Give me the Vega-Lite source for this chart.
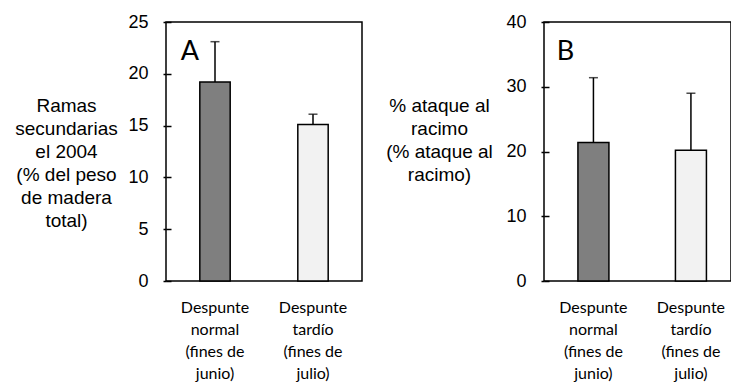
{
  "$schema": "https://vega.github.io/schema/vega-lite/v6.json",
  "background": "white",
  "padding": {"left": 14, "top": 12, "right": 0, "bottom": 0},
  "bounds": "flush",
  "spacing": 182,
  "config": {
    "view": {"stroke": "black", "strokeWidth": 1.5},
    "axis": {"labelColor": "black", "titleColor": "black", "grid": false, "domain": false}
  },
  "hconcat": [
    {
      "width": 196,
      "height": 259,
      "data": {"values": [
        {"cat": "Despunte|normal|(fines de|junio)", "v": 19.2, "hi": 23.1},
        {"cat": "Despunte|tardío|(fines de|julio)", "v": 15.1, "hi": 16.1}
      ]},
      "layer": [
        {
          "mark": {"type": "bar", "stroke": "black", "strokeWidth": 1.5},
          "encoding": {
            "x": {"field": "cat", "type": "nominal", "sort": null,
              "scale": {"paddingInner": 0.69, "paddingOuter": 0.345},
              "axis": {"title": null, "ticks": false, "labelAngle": 0, "labelExpr": "split(datum.label, '|')",
                "labelFont": "Lato", "labelFontSize": 16, "labelLineHeight": 22, "labelPadding": 18}},
            "y": {"field": "v", "type": "quantitative", "scale": {"domain": [0, 25], "nice": false, "padding": 0},
              "axis": {"values": [0, 5, 10, 15, 20, 25], "ticks": true, "tickSize": 3, "tickColor": "black", "tickWidth": 1.5,
                "grid": true, "gridColor": "black", "gridWidth": 1.5, "gridDash": [5, 1000], "gridOpacity": 1,
                "labelFont": "Liberation Sans", "labelFontSize": 18, "labelPadding": 15, "labelFlush": false,
                "title": ["Ramas", "secundarias", "el 2004", "(% del peso", "de madera", "total)"],
                "titleAngle": 0, "titleX": -100, "titleY": 83, "titleAlign": "center", "titleBaseline": "middle",
                "titleFont": "Liberation Sans", "titleFontSize": 19, "titleFontWeight": "normal", "titleLineHeight": 23}},
            "color": {"field": "cat", "type": "nominal", "sort": null, "scale": {"range": ["#7f7f7f", "#f2f2f2"]}, "legend": null}
          }
        },
        {
          "mark": {"type": "rule", "color": "black", "strokeWidth": 1.5},
          "encoding": {
            "x": {"field": "cat", "type": "nominal", "sort": null},
            "y": {"field": "v", "type": "quantitative"},
            "y2": {"field": "hi"}
          }
        },
        {
          "mark": {"type": "tick", "color": "black", "size": 9, "thickness": 1.5},
          "encoding": {
            "x": {"field": "cat", "type": "nominal", "sort": null},
            "y": {"field": "hi", "type": "quantitative"}
          }
        },
        {
          "data": {"values": [{"panel": "A"}]},
          "mark": {"type": "text", "font": "Lato", "fontSize": 27, "color": "black", "align": "center", "baseline": "middle", "dx": -25},
          "encoding": {
            "x": {"datum": "Despunte|normal|(fines de|junio)", "type": "nominal"},
            "y": {"datum": 22.1, "type": "quantitative"},
            "text": {"field": "panel"}
          }
        }
      ]
    },
    {
      "width": 187,
      "height": 259,
      "data": {"values": [
        {"cat": "Despunte|normal|(fines de|junio)", "v": 21.4, "hi": 31.4},
        {"cat": "Despunte|tardío|(fines de|julio)", "v": 20.2, "hi": 29.0}
      ]},
      "layer": [
        {
          "mark": {"type": "bar", "stroke": "black", "strokeWidth": 1.5},
          "encoding": {
            "x": {"field": "cat", "type": "nominal", "sort": null,
              "scale": {"paddingInner": 0.682, "paddingOuter": 0.3, "align": 0.58},
              "axis": {"title": null, "ticks": false, "labelAngle": 0, "labelExpr": "split(datum.label, '|')",
                "labelFont": "Lato", "labelFontSize": 16, "labelLineHeight": 22, "labelPadding": 18}},
            "y": {"field": "v", "type": "quantitative", "scale": {"domain": [0, 40], "nice": false, "padding": 0},
              "axis": {"values": [0, 10, 20, 30, 40], "ticks": true, "tickSize": 3, "tickColor": "black", "tickWidth": 1.5,
                "grid": true, "gridColor": "black", "gridWidth": 1.5, "gridDash": [5, 1000], "gridOpacity": 1,
                "labelFont": "Liberation Sans", "labelFontSize": 18, "labelPadding": 15, "labelFlush": false,
                "title": ["% ataque al", "racimo", "(% ataque al", "racimo)"],
                "titleAngle": 0, "titleX": -105, "titleY": 83, "titleAlign": "center", "titleBaseline": "middle",
                "titleFont": "Liberation Sans", "titleFontSize": 19, "titleFontWeight": "normal", "titleLineHeight": 23}},
            "color": {"field": "cat", "type": "nominal", "sort": null, "scale": {"range": ["#7f7f7f", "#f2f2f2"]}, "legend": null}
          }
        },
        {
          "mark": {"type": "rule", "color": "black", "strokeWidth": 1.5},
          "encoding": {
            "x": {"field": "cat", "type": "nominal", "sort": null},
            "y": {"field": "v", "type": "quantitative"},
            "y2": {"field": "hi"}
          }
        },
        {
          "mark": {"type": "tick", "color": "black", "size": 9, "thickness": 1.5},
          "encoding": {
            "x": {"field": "cat", "type": "nominal", "sort": null},
            "y": {"field": "hi", "type": "quantitative"}
          }
        },
        {
          "data": {"values": [{"panel": "B"}]},
          "mark": {"type": "text", "font": "Lato", "fontSize": 27, "color": "black", "align": "center", "baseline": "middle", "dx": -28},
          "encoding": {
            "x": {"datum": "Despunte|normal|(fines de|junio)", "type": "nominal"},
            "y": {"datum": 35.3, "type": "quantitative"},
            "text": {"field": "panel"}
          }
        }
      ]
    }
  ]
}
